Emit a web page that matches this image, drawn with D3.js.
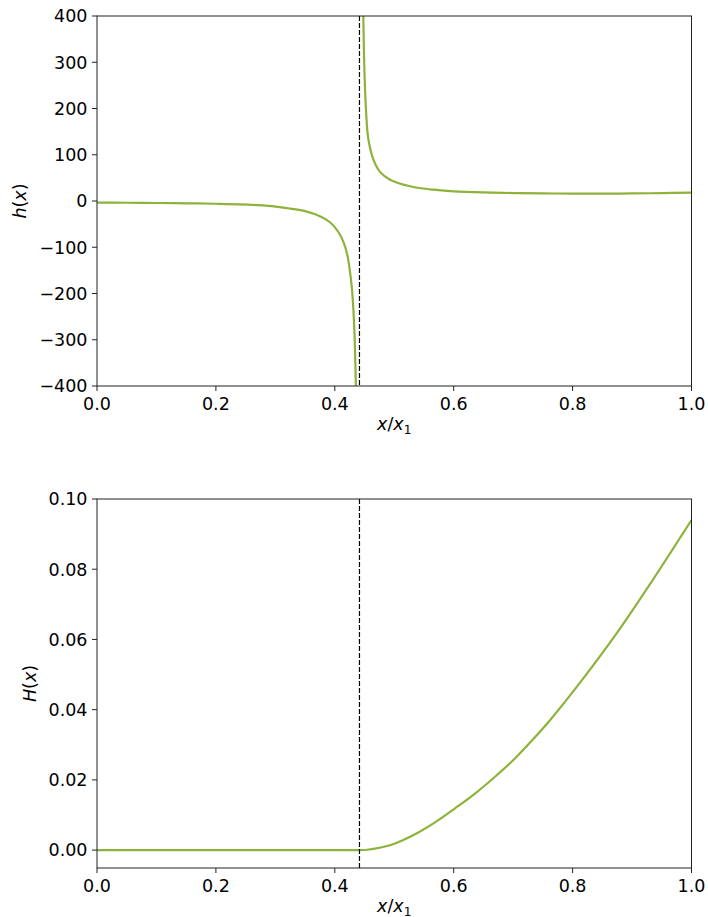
<!DOCTYPE html>
<html>
<head>
<meta charset="utf-8">
<script src="https://cdnjs.cloudflare.com/ajax/libs/d3/7.8.5/d3.min.js"></script>
<style>
  body { margin: 0; background: #fff; }
  svg text { font-family: "DejaVu Sans", sans-serif; fill: #000; }
</style>
</head>
<body>
<div id="chart"></div>
<script>
// position of the singularity (x / x1)
var xSing = 0.4415;

// h(x), left branch
var hLeftX = [0.0, 0.05, 0.10, 0.15, 0.20, 0.24, 0.27, 0.30, 0.325, 0.35, 0.375, 0.392, 0.406, 0.4143, 0.421, 0.4244, 0.4284, 0.4311, 0.4335, 0.4357, 0.4372];
var hLeftY = [-3.5, -3.8, -4.3, -5, -6, -7.2, -9, -12, -16.5, -22, -33, -46, -67, -88, -116, -142, -184, -231, -300, -412, -550];

// h(x), right branch
var hRightX = [0.4470, 0.448, 0.4496, 0.4525, 0.4564, 0.4648, 0.476, 0.4929, 0.509, 0.5265, 0.545, 0.566, 0.60, 0.65, 0.70, 0.75, 0.80, 0.85, 0.90, 0.95, 1.0];
var hRightY = [490, 400, 292, 196, 134, 90, 63, 46, 38, 32, 27.5, 24.5, 21, 18.5, 17.2, 16.4, 15.9, 15.9, 16.4, 17.1, 18];

// H(x)
var HX = [0.0, 0.1, 0.2, 0.3, 0.4, 0.4415, 0.455, 0.4676, 0.5013, 0.5349, 0.5685, 0.6022, 0.6358, 0.6695, 0.7031, 0.7228, 0.762, 0.818, 0.874, 0.930, 1.0];
var HY = [0, 0, 0, 0, 0, 0, 0.0001, 0.0004, 0.0019, 0.0045, 0.0079, 0.0119, 0.0161, 0.0209, 0.0261, 0.0296, 0.037, 0.0489, 0.0617, 0.0757, 0.0940];

var xTicks = [0, 0.2, 0.4, 0.6, 0.8, 1.0];
var hTicks = [-400, -300, -200, -100, 0, 100, 200, 300, 400];
var HTicks = [0, 0.02, 0.04, 0.06, 0.08, 0.10];

var W = 708, H = 917;
var fs = 17.5;
var lineColor = "#8db33a";

var svg = d3.select("#chart").append("svg")
    .attr("width", W)
    .attr("height", H);

var x = d3.scaleLinear().domain([0, 1]).range([97, 691.5]);

function zip(xs, ys) { return xs.map(function(d, i) { return [d, ys[i]]; }); }

function italicLabel(g, parts) {
  parts.forEach(function(p) {
    var t = g.append("tspan").text(p[0]);
    if (p[1]) t.style("font-style", "italic");
    if (p[2]) t.attr("font-size", fs * 0.7).attr("dy", p[2]);
  });
}

var drawPanel = function(opt) {
  var y = d3.scaleLinear().domain(opt.yDomain).range([opt.bottom, opt.top]);
  var g = svg.append("g");
  var id = "clip" + opt.top;

  g.append("clipPath").attr("id", id)
    .append("rect")
    .attr("x", x(0)).attr("y", opt.top)
    .attr("width", x(1) - x(0)).attr("height", opt.bottom - opt.top);

  var line = d3.line()
      .x(function(d) { return x(d[0]); })
      .y(function(d) { return y(d[1]); })
      .curve(d3.curveCatmullRom.alpha(0.5));

  var plot = g.append("g").attr("clip-path", "url(#" + id + ")");
  opt.series.forEach(function(s) {
    plot.append("path")
      .attr("d", line(s))
      .attr("fill", "none")
      .attr("stroke", lineColor)
      .attr("stroke-width", 2.2)
      .attr("stroke-linejoin", "round");
  });

  // dashed marker at the singularity
  g.append("line")
    .attr("x1", x(xSing)).attr("x2", x(xSing))
    .attr("y1", opt.top).attr("y2", opt.bottom)
    .attr("stroke", "#000")
    .attr("stroke-width", 1.2)
    .attr("stroke-dasharray", "5,2");

  // frame
  g.append("rect")
    .attr("x", x(0)).attr("y", opt.top)
    .attr("width", x(1) - x(0)).attr("height", opt.bottom - opt.top)
    .attr("fill", "none")
    .attr("stroke", "#222")
    .attr("stroke-width", 1);

  // x ticks
  var xt = g.selectAll(".xt").data(xTicks).enter().append("g");
  xt.append("line")
    .attr("x1", function(d) { return x(d); }).attr("x2", function(d) { return x(d); })
    .attr("y1", opt.bottom).attr("y2", opt.bottom + 5)
    .attr("stroke", "#222");
  xt.append("text")
    .attr("x", function(d) { return x(d); })
    .attr("y", opt.bottom + 24)
    .attr("text-anchor", "middle")
    .attr("font-size", fs)
    .text(function(d) { return d3.format(".1f")(d); });

  // y ticks
  var yt = g.selectAll(".yt").data(opt.yTicks).enter().append("g");
  yt.append("line")
    .attr("x1", x(0) - 5).attr("x2", x(0))
    .attr("y1", function(d) { return y(d); }).attr("y2", function(d) { return y(d); })
    .attr("stroke", "#222");
  yt.append("text")
    .attr("x", x(0) - 9.5)
    .attr("y", function(d) { return y(d) + fs * 0.364; })
    .attr("text-anchor", "end")
    .attr("font-size", fs)
    .text(function(d) { return opt.fmt(d).replace("-", "\u2212"); });

  // axis labels
  var xl = g.append("text")
    .attr("x", (x(0) + x(1)) / 2)
    .attr("y", opt.bottom + 43.5)
    .attr("text-anchor", "middle")
    .attr("font-size", fs);
  italicLabel(xl, [["x", true], ["/", false], ["x", true], ["1", false, 4]]);

  var yl = g.append("text")
    .attr("transform", "translate(" + opt.yLabelX + "," + (opt.top + opt.bottom) / 2 + ") rotate(-90)")
    .attr("text-anchor", "middle")
    .attr("font-size", fs);
  italicLabel(yl, [[opt.yName, true], ["(", false], ["x", true], [")", false]]);
};

drawPanel({
  top: 16, bottom: 386,
  yDomain: [-400, 400],
  yTicks: hTicks,
  fmt: d3.format("d"),
  yName: "h",
  yLabelX: 26,
  series: [zip(hLeftX, hLeftY), zip(hRightX, hRightY)]
});

drawPanel({
  top: 499, bottom: 868,
  yDomain: [-0.0051, 0.1],
  yTicks: HTicks,
  fmt: d3.format(".2f"),
  yName: "H",
  yLabelX: 36,
  series: [zip(HX, HY)]
});
</script>
</body>
</html>
